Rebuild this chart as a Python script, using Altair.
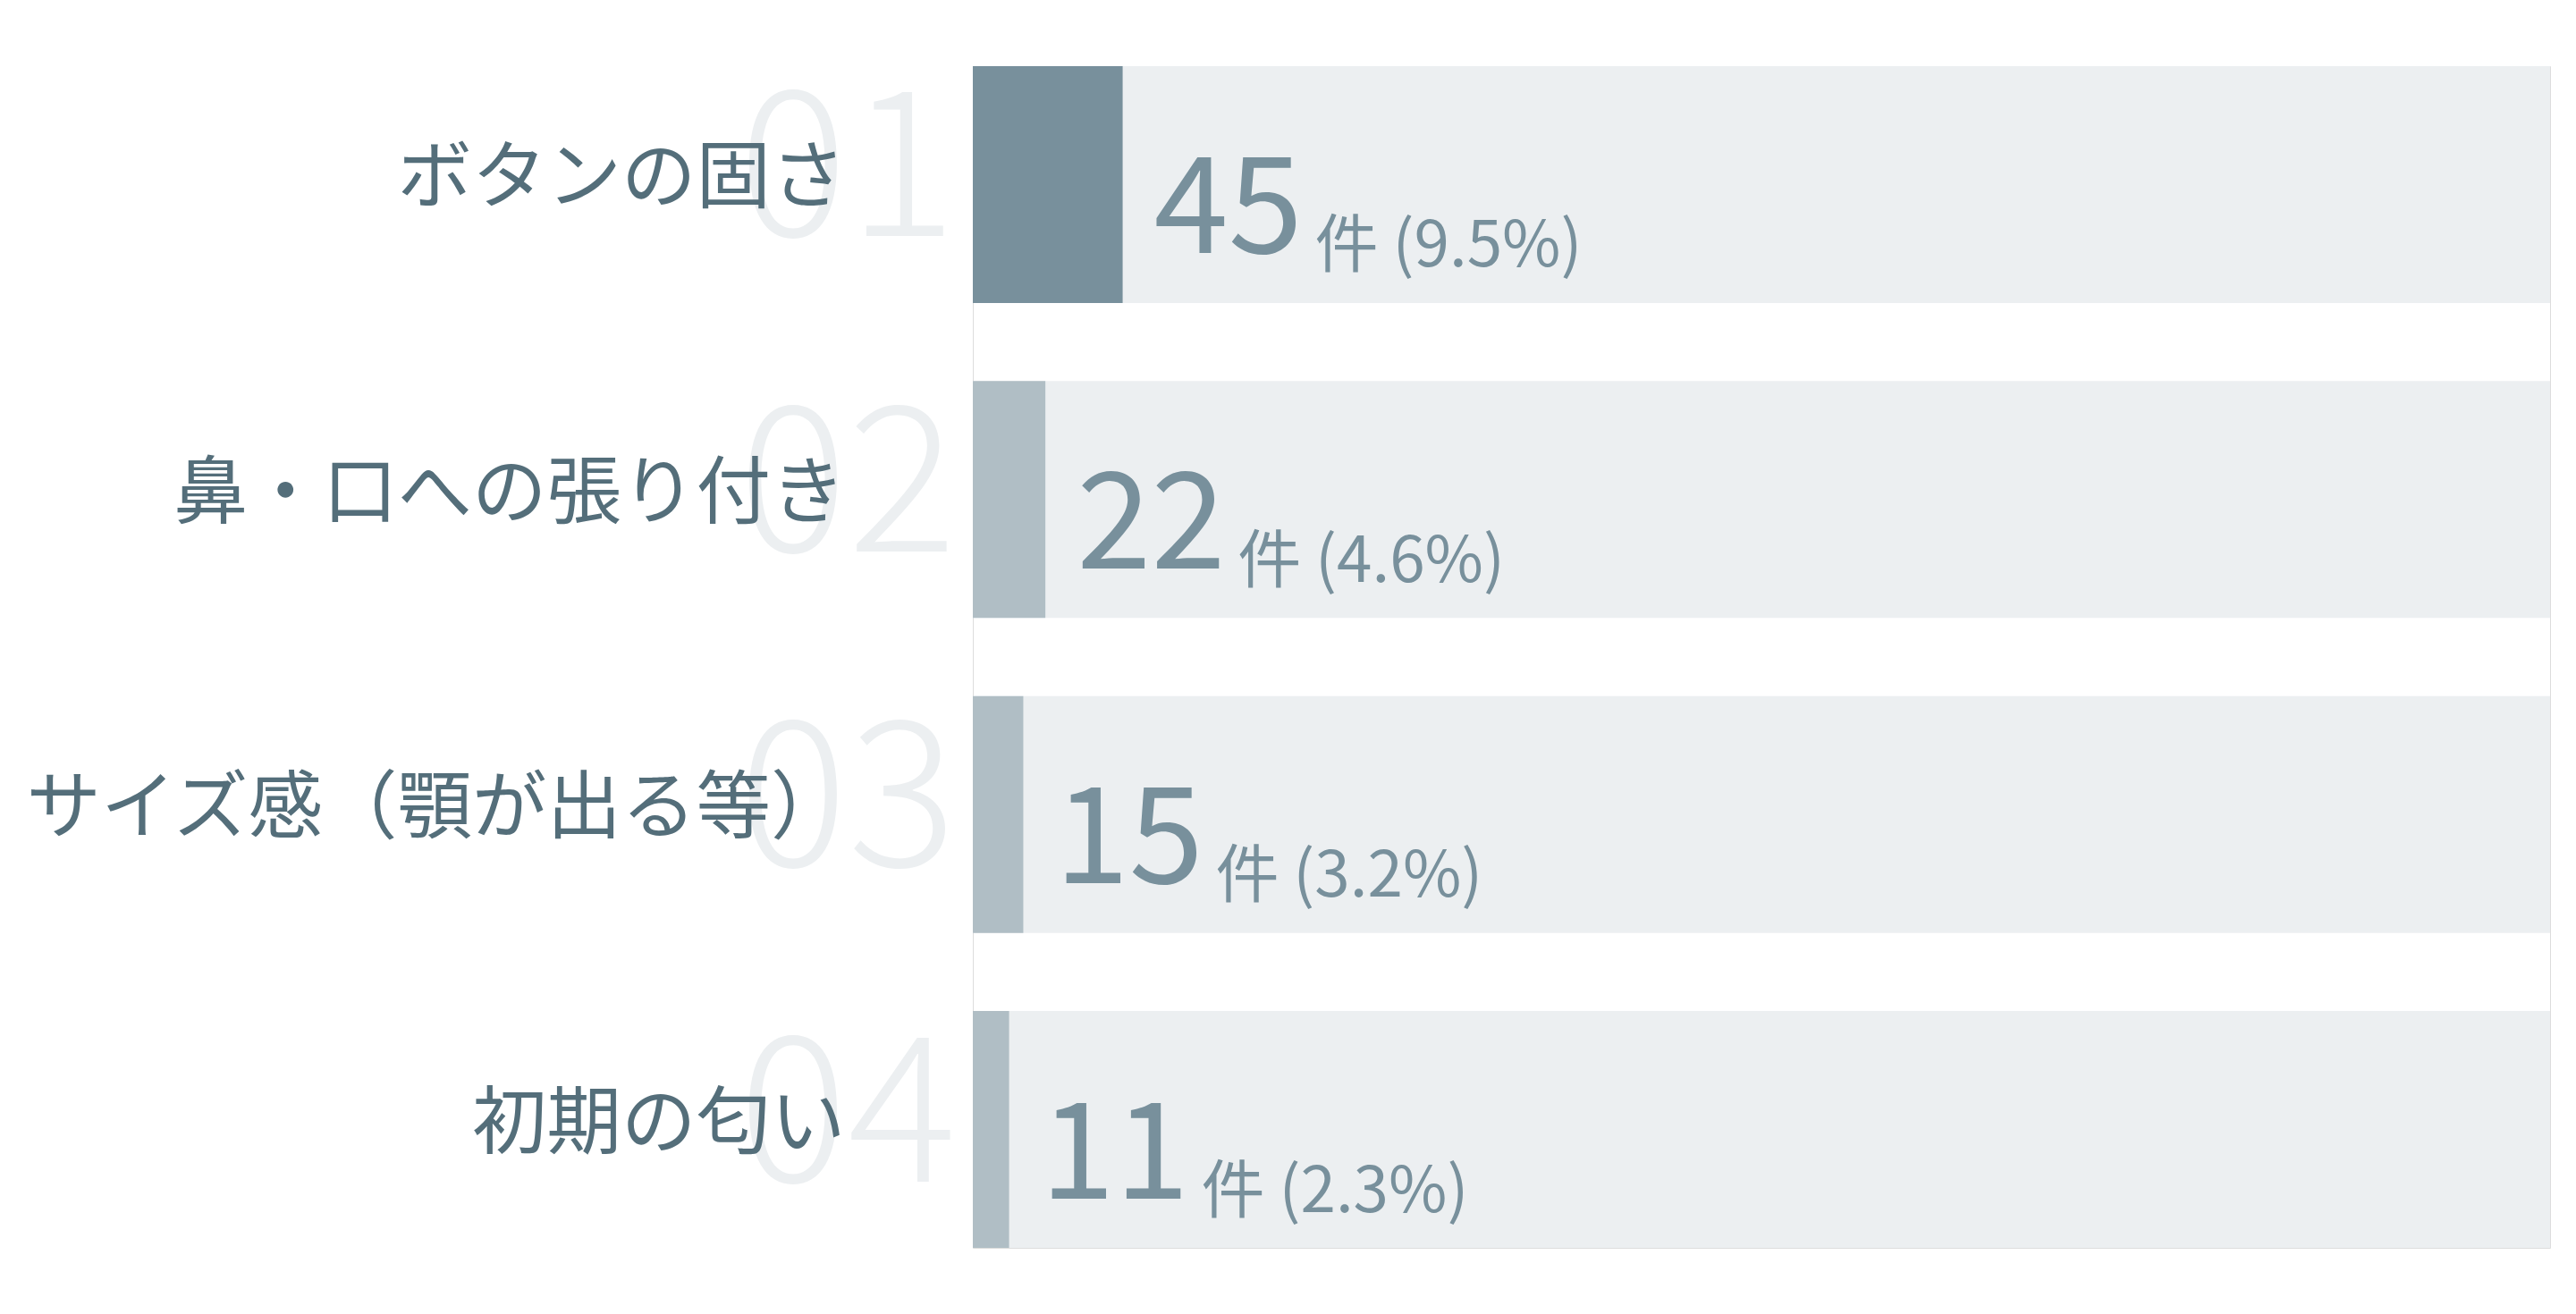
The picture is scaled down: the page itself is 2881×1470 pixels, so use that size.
import altair as alt
import pandas as pd

labels = ["ボタンの固さ", "鼻・口への張り付き", "サイズ感（顎が出る等）", "初期の匂い"]
ranks = ["01", "02", "03", "04"]
counts = [45, 22, 15, 11]
percents = [9.5, 4.6, 3.2, 2.3]
unit = "件"

df = pd.DataFrame({
    "label": labels,
    "rank": ranks,
    "count": counts,
    "pct": percents,
})
df["zero"] = 0
df["full"] = 100
df["top"] = [r == "01" for r in ranks]
df["count_txt"] = df["count"].astype(str)
df["sub_txt"] = [f"{unit} ({p}%)" for p in percents]

FONT = "Noto Sans CJK JP"
W, H = 1764, 1322

x_scale = alt.Scale(domain=[0, 100], range=[0, W], nice=False, zero=True)
y_enc = alt.Y(
    "label:N",
    sort=labels,
    scale=alt.Scale(paddingInner=0.248, paddingOuter=0),
    axis=alt.Axis(
        title=None, ticks=False, domain=False, tickSize=0, grid=False,
        labelFont=FONT, labelFontSize=83.5, labelColor="#546e7a",
        labelPadding=143, labelLimit=3000, labelOffset=-5, zindex=1,
        labelAlign="right",
    ),
)

base = alt.Chart(df)

track = base.mark_bar(color="#eceff1").encode(
    x=alt.X("zero:Q", scale=x_scale, axis=None),
    x2="full:Q",
    y=y_enc,
)

fill = base.mark_bar().encode(
    x=alt.X("zero:Q", scale=x_scale, axis=None),
    x2="pct:Q",
    y=y_enc,
    color=alt.Color("top:N", scale=alt.Scale(domain=[True, False], range=["#78909c", "#b0bec5"]), legend=None),
)

rank_txt = base.mark_text(
    font=FONT, fontSize=228, fontWeight=200, color="#eceff1",
    align="left", baseline="alphabetic", dx=-262, dy=58,
).encode(
    x=alt.X("zero:Q", scale=x_scale, axis=None),
    y=y_enc,
    text="rank:N",
)

num_txt = base.mark_text(
    font=FONT, fontSize=150, color="#78909c",
    align="left", baseline="alphabetic", dx=35, dy=77,
).encode(
    x=alt.X("pct:Q", scale=x_scale, axis=None),
    y=y_enc,
    text="count_txt:N",
)

sub_txt = base.mark_text(
    font=FONT, fontSize=71, color="#78909c",
    align="left", baseline="alphabetic", dx=215, dy=92,
).encode(
    x=alt.X("pct:Q", scale=x_scale, axis=None),
    y=y_enc,
    text="sub_txt:N",
)

chart = alt.layer(track, fill, rank_txt, num_txt, sub_txt).properties(
    width=W, height=H,
    autosize=alt.AutoSizeParams(type="none"),
    padding={"left": 1080, "top": 66, "right": 10, "bottom": 10},
).configure_view(strokeWidth=0, stroke="transparent", strokeOpacity=0).configure(background="white")

chart.save("out.html", embed_options={"renderer": "svg", "actions": False})
